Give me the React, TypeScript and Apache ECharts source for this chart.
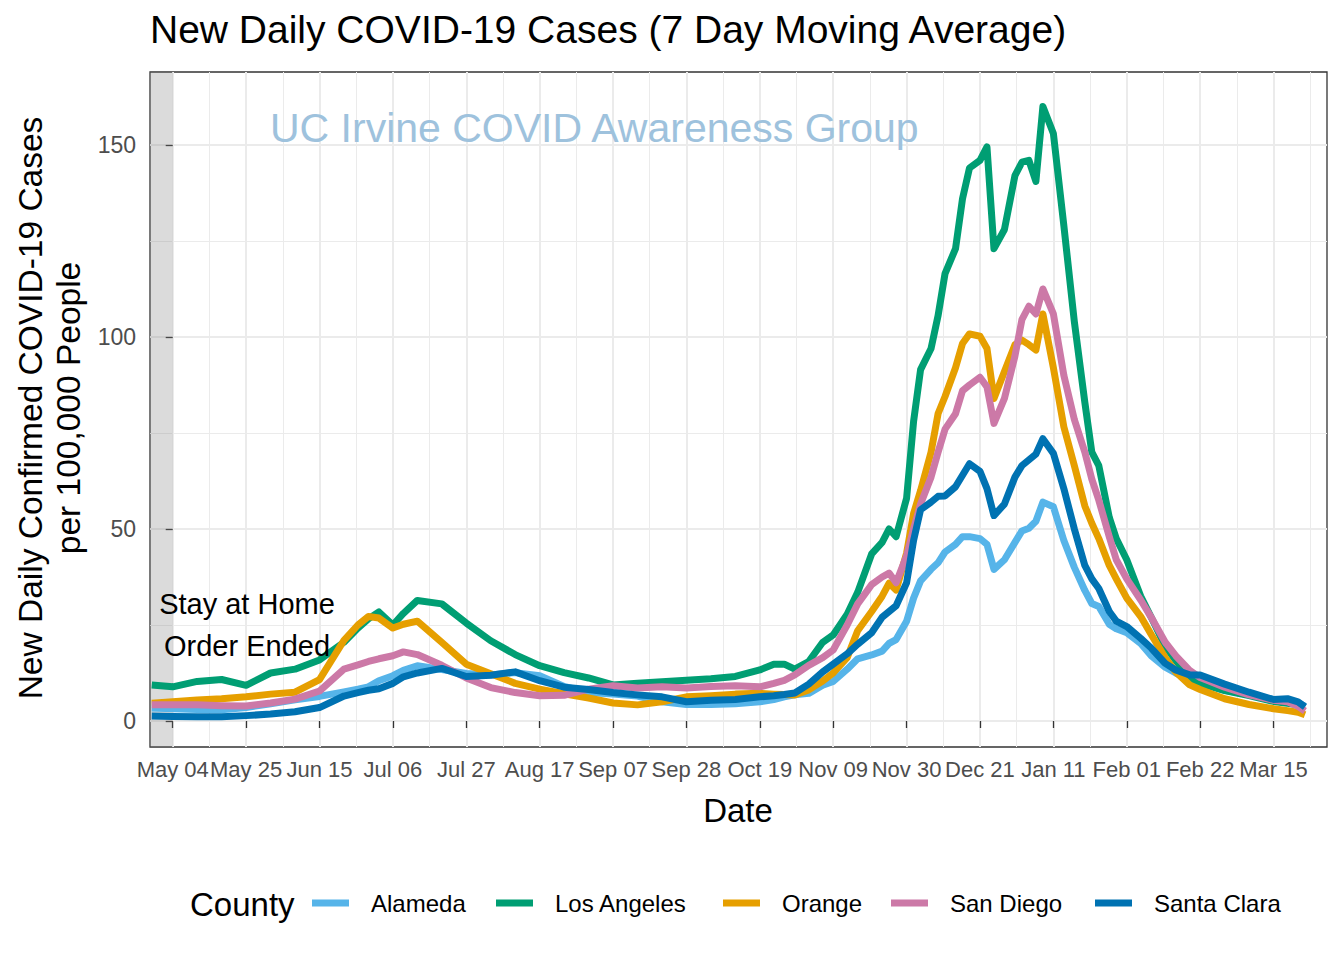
import React, { useEffect, useRef } from 'react';
import * as echarts from 'echarts';

const DATES = [
  '2020-04-28','2020-05-04','2020-05-11','2020-05-18','2020-05-25','2020-06-01','2020-06-08','2020-06-15','2020-06-22','2020-06-26',
  '2020-06-29','2020-07-02','2020-07-06','2020-07-09','2020-07-13','2020-07-20','2020-07-27','2020-08-03','2020-08-10','2020-08-17',
  '2020-08-24','2020-08-31','2020-09-07','2020-09-14','2020-09-21','2020-09-28','2020-10-05','2020-10-12','2020-10-19','2020-10-23',
  '2020-10-26','2020-10-29','2020-11-02','2020-11-06','2020-11-09','2020-11-13','2020-11-16','2020-11-20','2020-11-23','2020-11-25',
  '2020-11-27','2020-11-30','2020-12-02','2020-12-04','2020-12-07','2020-12-09','2020-12-11','2020-12-14','2020-12-16','2020-12-18',
  '2020-12-21','2020-12-23','2020-12-25','2020-12-28','2020-12-31','2021-01-02','2021-01-04','2021-01-06','2021-01-08','2021-01-11',
  '2021-01-14','2021-01-17','2021-01-20','2021-01-22','2021-01-24','2021-01-27','2021-01-29','2021-02-01','2021-02-05','2021-02-08',
  '2021-02-12','2021-02-15','2021-02-19','2021-02-22','2021-03-01','2021-03-08','2021-03-15','2021-03-19','2021-03-22','2021-03-24',
];

const ALAMEDA = [
  3.4, 3.2, 3.0, 2.9, 3.5, 4.5, 5.5, 6.4, 7.6, 8.3,
  8.9, 10.5, 11.8, 13.2, 14.4, 13.4, 12.4, 12.0, 12.6, 11.8,
  9.0, 7.4, 7.0, 6.5, 5.0, 4.3, 4.3, 4.5, 5.0, 5.6,
  6.3, 6.8, 7.2, 9.3, 10.3, 13.5, 16.2, 17.2, 18.2, 20.2,
  21.2, 26.0, 32.0, 36.5, 39.5, 41.2, 44.0, 46.0, 48.0, 48.0,
  47.5, 46.0, 39.5, 42.0, 46.5, 49.5, 50.2, 52.0, 57.0, 55.8,
  47.0, 40.0, 34.0, 30.6, 29.8, 25.2, 24.0, 23.0, 20.2, 17.0,
  14.0, 12.5, 10.8, 10.0, 8.0, 6.8, 5.6, 5.4, 4.8, 3.8,
];

const LOS_ANGELES = [
  9.4, 8.9, 10.3, 10.8, 9.3, 12.5, 13.5, 15.9, 20.5, 24.2,
  26.6, 28.4, 25.0, 28.0, 31.4, 30.5, 25.5, 20.9, 17.3, 14.4,
  12.6, 11.2, 9.4, 9.8, 10.2, 10.6, 11.0, 11.6, 13.3, 14.8,
  14.8, 13.5, 15.5, 20.5, 22.4, 27.8, 33.5, 43.5, 46.5, 50.0,
  48.0, 58.0, 78.0, 91.5, 97.0, 105.5, 116.5, 123.0, 136.0, 144.0,
  146.0, 149.5, 123.0, 128.0, 142.0, 145.5, 146.0, 140.5, 160.0, 153.0,
  129.0, 104.0, 83.0, 70.0, 66.5, 53.0, 47.5, 42.0, 32.5, 27.0,
  19.5, 15.8, 11.2, 9.8, 7.9, 6.6, 5.1, 4.6, 4.2, 3.6,
];

const ORANGE = [
  4.6, 5.0, 5.5, 5.8, 6.3, 7.0, 7.5, 10.8, 21.0, 25.0,
  27.2, 26.8, 24.2, 25.2, 26.0, 20.5, 14.8, 12.3, 9.8, 8.3,
  7.1, 6.0, 4.7, 4.2, 5.0, 6.3, 6.6, 7.0, 7.2, 7.0,
  6.9, 6.8, 8.1, 10.4, 12.5, 16.5, 23.5, 28.5, 32.5, 35.9,
  34.1, 43.7, 54.0, 60.0, 70.0, 80.0, 84.5, 92.0, 98.3, 100.8,
  100.2, 97.0, 84.0, 91.0, 98.0, 99.2, 98.0, 96.6, 106.0, 92.0,
  76.6, 66.5, 56.0, 51.5, 47.5, 40.5, 37.0, 32.0, 27.2, 22.5,
  16.5, 12.8, 9.4, 8.2, 5.8, 4.3, 3.2, 2.7, 2.3, 1.6,
];

const SAN_DIEGO = [
  4.2, 4.2, 4.2, 4.0, 3.9, 4.7, 5.7, 7.8, 13.5, 14.6,
  15.5, 16.2, 17.0, 18.0, 17.3, 14.5, 11.2, 8.7, 7.4, 6.6,
  6.7, 8.3, 9.2, 8.6, 8.9, 8.6, 9.0, 9.2, 8.9, 9.8,
  10.6, 12.0, 14.5, 16.5, 18.5, 25.0, 30.5, 35.5, 37.5, 38.5,
  36.0, 43.0, 50.0, 56.5, 63.5, 70.0, 76.0, 80.0, 86.0, 87.5,
  89.5, 87.0, 77.5, 84.0, 95.0, 104.5, 108.0, 106.0, 112.5, 106.0,
  90.0, 78.5, 70.0, 63.0, 57.5, 48.0, 42.0, 37.0, 31.5, 27.0,
  20.5, 17.0, 13.2, 11.3, 8.8, 6.8, 5.4, 5.0, 3.8, 2.6,
];

const SANTA_CLARA = [
  1.3, 1.2, 1.1, 1.1, 1.4, 1.8, 2.4, 3.5, 6.5, 7.4,
  8.0, 8.4, 9.8, 11.5, 12.5, 13.7, 11.6, 11.9, 12.8, 10.5,
  8.8, 8.2, 7.4, 6.8, 6.3, 5.0, 5.4, 5.6, 6.3, 6.6,
  6.9, 7.3, 9.6, 12.8, 14.8, 17.5, 20.0, 23.0, 27.0, 28.5,
  30.0, 36.0, 47.0, 55.0, 57.0, 58.5, 58.6, 61.0, 64.0, 67.0,
  65.0, 60.5, 53.5, 56.5, 63.5, 66.5, 68.0, 69.5, 73.5, 69.7,
  60.5, 50.0, 40.5, 37.0, 34.5, 28.5, 26.0, 24.6, 21.5, 19.0,
  15.0, 13.3, 12.0, 12.0, 9.6, 7.5, 5.6, 5.8, 5.0, 3.7,
];

const COUNTIES = ['Alameda', 'Los Angeles', 'Orange', 'San Diego', 'Santa Clara'];
const VALUES = [ALAMEDA, LOS_ANGELES, ORANGE, SAN_DIEGO, SANTA_CLARA];
const COLORS = ['#56B4E9', '#009E73', '#E69F00', '#CC79A7', '#0072B2'];

const X_TICK_DATES = [
  '2020-05-04','2020-05-25','2020-06-15','2020-07-06','2020-07-27','2020-08-17','2020-09-07','2020-09-28',
  '2020-10-19','2020-11-09','2020-11-30','2020-12-21','2021-01-11','2021-02-01','2021-02-22','2021-03-15',
];
const Y_TICKS = [0, 50, 100, 150];
const Y_MINOR = [25, 75, 125];
const STAY_HOME_END = '2020-05-04';

const TITLE = 'New Daily COVID-19 Cases (7 Day Moving Average)';
const Y_TITLE = 'New Daily Confirmed COVID-19 Cases\nper 100,000 People';
const X_TITLE = 'Date';
const WATERMARK = 'UC Irvine COVID Awareness Group';
const NOTE = 'Stay at Home\nOrder Ended';
const LEGEND_TITLE = 'County';
const MONTHS = ['Jan','Feb','Mar','Apr','May','Jun','Jul','Aug','Sep','Oct','Nov','Dec'];

const BASE = Date.UTC(2020, 4, 4);
const DAY = 86400000;
const toDay = (s: string) => (Date.parse(s) - BASE) / DAY;
const fmtDay = (v: number) => {
  const d = new Date(BASE + Math.round(v) * DAY);
  return MONTHS[d.getUTCMonth()] + ' ' + String(d.getUTCDate()).padStart(2, '0');
};

const X_MIN = -6.5;
const X_MAX = 330.3;
const Y_MIN = -6.77;
const Y_MAX = 169;

const FONT = '"Liberation Sans", Arial, Helvetica, sans-serif';

export default function App() {
  const ref = useRef<HTMLDivElement>(null);
  useEffect(() => {
    if (!ref.current) return;
    const chart = echarts.init(ref.current, null, { renderer: 'svg' });
    const majorX = X_TICK_DATES.map(toDay);
    const minorX = majorX.map((v) => v + 10.5);
    const legendLefts = [312, 496, 723, 891, 1095];

    const series: any[] = COUNTIES.map((name, i) => ({
      type: 'line',
      name,
      data: DATES.map((d, j) => [toDay(d), VALUES[i][j]]),
      showSymbol: false,
      symbol: 'none',
      xAxisIndex: 0,
      yAxisIndex: 0,
      z: 3,
      lineStyle: { width: 7, color: COLORS[i], join: 'round', cap: 'butt' },
      itemStyle: { color: COLORS[i] },
    }));
    series.push({
      type: 'line',
      name: '__shade',
      data: [],
      xAxisIndex: 0,
      yAxisIndex: 0,
      z: 6,
      silent: true,
      markArea: {
        silent: true,
        itemStyle: { color: 'rgba(127,127,127,0.28)' },
        data: [[{ xAxis: X_MIN }, { xAxis: toDay(STAY_HOME_END) }]],
      },
    });

    chart.setOption({
      animation: false,
      backgroundColor: '#ffffff',
      textStyle: { fontFamily: FONT },
      grid: {
        left: 150,
        right: 17,
        top: 72,
        height: 675,
        show: true,
        borderColor: '#333333',
        borderWidth: 1.3,
        backgroundColor: 'transparent',
      },
      xAxis: [
        {
          type: 'value',
          min: X_MIN,
          max: X_MAX,
          axisLine: { show: false },
          axisTick: { show: true, customValues: majorX, length: 7, lineStyle: { color: '#333333', width: 1.3 } },
          axisLabel: {
            customValues: majorX,
            formatter: (v: number) => fmtDay(v),
            color: '#4D4D4D',
            fontSize: 22,
            fontFamily: FONT,
            margin: 11,
            showMinLabel: true,
            showMaxLabel: true,
            hideOverlap: false,
          },
          splitLine: { show: true, lineStyle: { color: '#EBEBEB', width: 2 } },
        },
        {
          type: 'value',
          min: X_MIN,
          max: X_MAX,
          position: 'bottom',
          axisLine: { show: false },
          axisTick: { show: false, customValues: minorX },
          axisLabel: { show: false, customValues: minorX },
          splitLine: { show: true, lineStyle: { color: '#EBEBEB', width: 1 } },
        },
      ],
      yAxis: [
        {
          type: 'value',
          min: Y_MIN,
          max: Y_MAX,
          axisLine: { show: false },
          axisTick: { show: true, customValues: Y_TICKS, length: 7, lineStyle: { color: '#333333', width: 1.3 } },
          axisLabel: {
            customValues: Y_TICKS,
            color: '#4D4D4D',
            fontSize: 23,
            fontFamily: FONT,
            margin: 14,
            showMinLabel: true,
            showMaxLabel: true,
          },
          splitLine: { show: true, lineStyle: { color: '#EBEBEB', width: 2 } },
        },
        {
          type: 'value',
          min: Y_MIN,
          max: Y_MAX,
          position: 'left',
          axisLine: { show: false },
          axisTick: { show: false, customValues: Y_MINOR },
          axisLabel: { show: false, customValues: Y_MINOR },
          splitLine: { show: true, lineStyle: { color: '#EBEBEB', width: 1 } },
        },
      ],
      legend: COUNTIES.map((name, i) => ({
        data: [name],
        left: legendLefts[i],
        top: 889,
        padding: 0,
        itemWidth: 37,
        itemHeight: 7,
        icon: 'rect',
        selectedMode: false,
        textStyle: { fontSize: 24, color: '#000000', fontFamily: FONT, padding: [0, 0, 0, 17], lineHeight: 28 },
      })),
      graphic: [
        {
          type: 'text',
          x: 150,
          y: 29,
          style: { text: TITLE, fill: '#000000', fontSize: 39, fontFamily: FONT, align: 'left', verticalAlign: 'middle' },
        },
        {
          type: 'text',
          x: 270,
          y: 128,
          z: 1,
          style: { text: WATERMARK, fill: '#9EC2DD', fontSize: 41, fontFamily: FONT, align: 'left', verticalAlign: 'middle' },
        },
        {
          type: 'text',
          x: 49,
          y: 408,
          rotation: Math.PI / 2,
          style: {
            text: Y_TITLE,
            fill: '#000000',
            fontSize: 33.5,
            lineHeight: 38,
            fontFamily: FONT,
            align: 'center',
            verticalAlign: 'middle',
          },
        },
        {
          type: 'text',
          x: 738,
          y: 810,
          style: { text: X_TITLE, fill: '#000000', fontSize: 33, fontFamily: FONT, align: 'center', verticalAlign: 'middle' },
        },
        {
          type: 'text',
          x: 247,
          y: 625,
          z: 10,
          style: {
            text: NOTE,
            fill: '#000000',
            fontSize: 29,
            lineHeight: 41.5,
            fontFamily: FONT,
            align: 'center',
            verticalAlign: 'middle',
          },
        },
        {
          type: 'text',
          x: 190,
          y: 904,
          style: { text: LEGEND_TITLE, fill: '#000000', fontSize: 33, fontFamily: FONT, align: 'left', verticalAlign: 'middle' },
        },
      ],
      series,
    });
    return () => chart.dispose();
  }, []);

  return (
    <div
      ref={ref}
      style={{ position: 'fixed', left: 0, top: 0, width: 1344, height: 960, background: '#ffffff' }}
    />
  );
}
